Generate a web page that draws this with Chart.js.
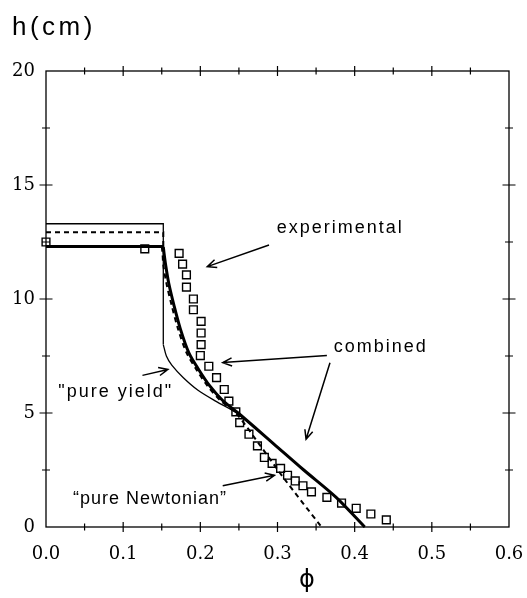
<!DOCTYPE html>
<html>
<head>
<meta charset="utf-8">
<script src="https://cdn.jsdelivr.net/npm/chart.js@4.4.0/dist/chart.umd.min.js"></script>
<style>
  html, body { margin: 0; padding: 0; background: #fff; }
  canvas { display: block; }
</style>
</head>
<body>
<canvas id="c" width="527" height="598"></canvas>
<script>
// Tick labels
const xTickLabels = ['0.0', '0.1', '0.2', '0.3', '0.4', '0.5', '0.6'];
const yTickLabels = ['0', '5', '10', '15', '20'];

// Experimental points (phi, h in cm)
const expPhi = [0.0, 0.128, 0.1725, 0.177, 0.182, 0.182, 0.191, 0.191, 0.201, 0.201, 0.201, 0.200,
                0.211, 0.221, 0.231, 0.237, 0.246, 0.251, 0.263, 0.274, 0.283, 0.293, 0.304, 0.313,
                0.323, 0.333, 0.344, 0.364, 0.383, 0.402, 0.421, 0.441];
const expH   = [12.5, 12.2, 12.0, 11.53, 11.06, 10.52, 10.0, 9.53, 9.02, 8.51, 8.0, 7.52,
                7.05, 6.55, 6.03, 5.52, 5.05, 4.58, 4.07, 3.56, 3.05, 2.79, 2.57, 2.27,
                2.02, 1.81, 1.54, 1.30, 1.05, 0.82, 0.57, 0.31];

// Combined model: plateau then settling front
const combPlateauPhi = [0.0, 0.152];
const combPlateauH   = [12.3, 12.3];
const combPhi = [0.152, 0.153, 0.155, 0.159, 0.166, 0.174, 0.185, 0.198, 0.212, 0.229, 0.249, 0.295, 0.334, 0.376, 0.413];
const combH   = [12.3, 12.0, 11.5, 10.7, 9.7, 8.7, 7.65, 6.9, 6.2, 5.55, 5.0, 3.65, 2.5, 1.3, 0.0];

// Pure Newtonian model
const newtPlateauPhi = [0.0, 0.152, 0.152];
const newtPlateauH   = [12.93, 12.93, 12.3];
const newtPhi = [0.150, 0.151, 0.152, 0.156, 0.163, 0.171, 0.182, 0.195, 0.209, 0.226, 0.246, 0.277, 0.308, 0.357];
const newtH   = [12.3, 12.0, 11.5, 10.7, 9.7, 8.7, 7.65, 6.9, 6.2, 5.55, 5.0, 3.6, 2.15, 0.0];

// Pure yield model
const yieldPlateauPhi = [0.0, 0.152, 0.152];
const yieldPlateauH   = [13.3, 13.3, 8.0];
const yieldPhi = [0.152, 0.156, 0.163, 0.178, 0.197, 0.221, 0.247, 0.295, 0.334, 0.376, 0.413];
const yieldH   = [8.0, 7.5, 7.1, 6.55, 6.0, 5.5, 5.0, 3.65, 2.5, 1.3, 0.0];

const pts = (xs, ys) => xs.map((v, i) => ({ x: v, y: ys[i] }));

// Text notes and their arrows (phi, h coordinates)
const notes = [
  { text: 'experimental', phi: 0.299, h: 13.1, spacing: 2 },
  { text: 'combined', phi: 0.373, h: 7.9, spacing: 2 },
  { text: '"pure yield"', phi: 0.016, h: 5.9, spacing: 2 },
  { text: '\u201Cpure Newtonian\u201D', phi: 0.035, h: 1.22, spacing: 1 }
];
const arrows = [
  { from: [0.289, 12.37], to: [0.209, 11.42] },
  { from: [0.364, 7.52], to: [0.229, 7.21] },
  { from: [0.368, 7.2], to: [0.337, 3.85] },
  { from: [0.125, 6.65], to: [0.158, 6.91] },
  { from: [0.229, 1.81], to: [0.296, 2.27] }
];

const frame = {
  id: 'frame',
  afterDraw(chart) {
    const { ctx, chartArea: a, scales: { x, y } } = chart;
    ctx.save();
    ctx.strokeStyle = '#000';
    ctx.fillStyle = '#000';
    ctx.lineWidth = 1.3;
    ctx.strokeRect(a.left, a.top, a.right - a.left, a.bottom - a.top);

    // tick marks crossing all four sides
    ctx.lineWidth = 1.2;
    ctx.beginPath();
    x.ticks.forEach(t => {
      const px = x.getPixelForValue(t.value);
      if (px <= a.left + 1 || px >= a.right - 1) return;
      const major = Math.round(t.value / 0.05) % 2 === 0;
      const L = major ? 5 : 3.5;
      ctx.moveTo(px, a.bottom - L); ctx.lineTo(px, a.bottom + L);
      ctx.moveTo(px, a.top - L); ctx.lineTo(px, a.top + L);
    });
    y.ticks.forEach(t => {
      const py = y.getPixelForValue(t.value);
      if (py <= a.top + 1 || py >= a.bottom - 1) return;
      const major = Math.round(t.value / 2.5) % 2 === 0;
      const L = major ? 6.5 : 4;
      ctx.moveTo(a.left - L, py); ctx.lineTo(a.left + L, py);
      ctx.moveTo(a.right - L, py); ctx.lineTo(a.right + L, py);
    });
    ctx.stroke();

    // axis names
    ctx.textAlign = 'left';
    ctx.textBaseline = 'middle';
    ctx.font = '26px "Liberation Sans", Arial, sans-serif';
    ctx.letterSpacing = '3.5px';
    ctx.fillText('h(cm)', 12, 28);
    ctx.letterSpacing = '0px';
    ctx.textAlign = 'center';
    ctx.font = '24px "DejaVu Sans", sans-serif';
    ctx.fillText('\u03D5', x.getPixelForValue(0.338), a.bottom + 54);

    // notes
    ctx.textAlign = 'left';
    ctx.font = '18px "Liberation Sans", Arial, sans-serif';
    notes.forEach(n => {
      ctx.letterSpacing = n.spacing + 'px';
      ctx.fillText(n.text, x.getPixelForValue(n.phi), y.getPixelForValue(n.h));
    });
    ctx.letterSpacing = '0px';

    // arrows
    ctx.lineWidth = 1.5;
    arrows.forEach(ar => {
      const x0 = x.getPixelForValue(ar.from[0]), y0 = y.getPixelForValue(ar.from[1]);
      const x1 = x.getPixelForValue(ar.to[0]), y1 = y.getPixelForValue(ar.to[1]);
      const ang = Math.atan2(y1 - y0, x1 - x0);
      const L = 10, w = 0.42;
      ctx.beginPath();
      ctx.moveTo(x0, y0); ctx.lineTo(x1, y1);
      ctx.moveTo(x1 - L * Math.cos(ang - w), y1 - L * Math.sin(ang - w));
      ctx.lineTo(x1, y1);
      ctx.lineTo(x1 - L * Math.cos(ang + w), y1 - L * Math.sin(ang + w));
      ctx.stroke();
    });
    ctx.restore();
  }
};

const lineBase = { showLine: true, pointRadius: 0, fill: false, borderColor: '#000', clip: false };

new Chart(document.getElementById('c'), {
  type: 'scatter',
  data: {
    datasets: [
      { ...lineBase, label: 'combined plateau', data: pts(combPlateauPhi, combPlateauH), borderWidth: 3, tension: 0 },
      { ...lineBase, label: 'combined', data: pts(combPhi, combH), borderWidth: 3, tension: 0.3 },
      { ...lineBase, label: 'pure Newtonian plateau', data: pts(newtPlateauPhi, newtPlateauH), borderWidth: 2, borderDash: [5, 4], tension: 0 },
      { ...lineBase, label: 'pure Newtonian', data: pts(newtPhi, newtH), borderWidth: 2, borderDash: [5, 4], tension: 0.3 },
      { ...lineBase, label: 'pure yield plateau', data: pts(yieldPlateauPhi, yieldPlateauH), borderWidth: 1.3, tension: 0 },
      { ...lineBase, label: 'pure yield', data: pts(yieldPhi, yieldH), borderWidth: 1.3, tension: 0.3 },
      { label: 'experimental', data: pts(expPhi, expH), showLine: false, pointStyle: 'rect',
        pointRadius: 5.5, borderColor: '#000', backgroundColor: 'rgba(0,0,0,0)', borderWidth: 1.4, clip: false }
    ]
  },
  options: {
    responsive: false,
    animation: false,
    devicePixelRatio: 1,
    layout: { padding: { top: 71, right: 18, bottom: 0, left: 0 } },
    plugins: { legend: { display: false }, tooltip: { enabled: false } },
    scales: {
      x: {
        type: 'linear', min: 0, max: 0.6,
        afterFit: s => { s.height = 71; s.paddingLeft = 0; s.paddingRight = 0; },
        border: { display: false },
        grid: { display: false, drawTicks: false },
        ticks: {
          stepSize: 0.05, padding: 17, color: '#000', maxRotation: 0, autoSkip: false,
          font: { family: '"DejaVu Serif", serif', size: 18 },
          callback: v => { const i = Math.round(v / 0.05); return i % 2 === 0 ? xTickLabels[i / 2] : ''; }
        }
      },
      y: {
        type: 'linear', min: 0, max: 20,
        afterFit: s => { s.width = 46; s.paddingTop = 0; s.paddingBottom = 0; },
        border: { display: false },
        grid: { display: false, drawTicks: false },
        ticks: {
          stepSize: 2.5, padding: 11, color: '#000', autoSkip: false,
          font: { family: '"DejaVu Serif", serif', size: 18 },
          callback: v => { const i = Math.round(v / 2.5); return i % 2 === 0 ? yTickLabels[i / 2] : ''; }
        }
      }
    }
  },
  plugins: [frame]
});
</script>
</body>
</html>
